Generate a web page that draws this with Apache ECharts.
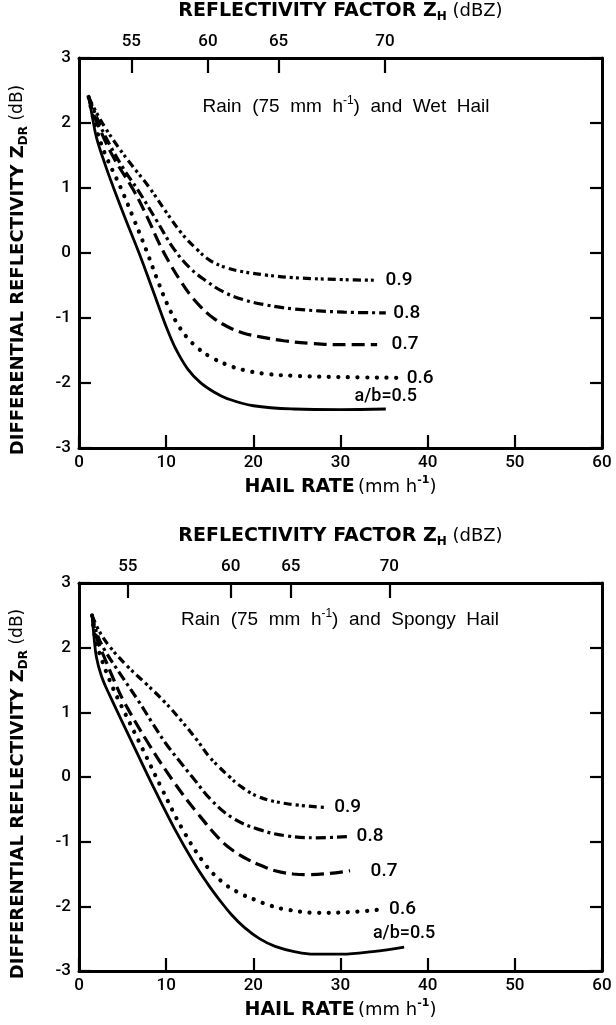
<!DOCTYPE html>
<html>
<head>
<meta charset="utf-8">
<script src="https://cdn.jsdelivr.net/npm/echarts@6/dist/echarts.min.js"></script>
<style>
  html, body { margin: 0; padding: 0; background: #fff; }
  #chart { width: 616px; height: 1025px; }
</style>
</head>
<body>
<div id="chart"></div>
<script>
// Z_DR (dB) against hail rate (mm h^-1) for rain of 75 mm h^-1 mixed with hail,
// one curve per hailstone axis ratio a/b.
const ratioLabels = ['a/b=0.5', '0.6', '0.7', '0.8', '0.9'];

// Wet hail: [hail rate, Z_DR]
const wet05 = [[1.1,2.4],[1.5,2.12],[2.0,1.78],[3.0,1.36],[4.0,0.99],[5.4,0.5],[6.8,0.03],[8.0,-0.4],[9.3,-0.88],[10.2,-1.2],[11.2,-1.5],[12.5,-1.79],[13.9,-1.99],[15.5,-2.14],[17.0,-2.24],[20.0,-2.35],[24.6,-2.40],[30.0,-2.41],[35.2,-2.40]];
const wet06 = [[1.1,2.4],[1.6,2.1],[2.1,1.86],[3.0,1.52],[4.8,1.0],[6.2,0.55],[7.7,0.05],[8.9,-0.38],[10.1,-0.78],[11.2,-1.07],[12.4,-1.3],[13.7,-1.47],[15.1,-1.6],[17.0,-1.72],[18.9,-1.8],[21.5,-1.86],[24.6,-1.89],[30.4,-1.91],[36.5,-1.92]];
const wet07 = [[1.1,2.4],[1.7,2.13],[2.3,1.93],[4.0,1.46],[6.2,0.98],[7.8,0.56],[9.3,0.12],[10.5,-0.18],[11.6,-0.42],[12.8,-0.65],[13.9,-0.82],[15.4,-1.0],[17.0,-1.13],[18.8,-1.23],[20.8,-1.29],[23.5,-1.35],[26.6,-1.39],[30.0,-1.41],[34.2,-1.41]];
const wet08 = [[1.1,2.4],[2.0,2.1],[3.0,1.8],[5.0,1.32],[6.8,0.96],[8.9,0.5],[10.9,0.06],[12.8,-0.24],[14.7,-0.44],[16.6,-0.6],[18.9,-0.72],[21.5,-0.8],[24.6,-0.86],[30.4,-0.91],[35.2,-0.92]];
const wet09 = [[1.1,2.4],[2.0,2.16],[3.0,1.93],[4.5,1.63],[6.0,1.36],[8.0,1.02],[10.0,0.63],[11.8,0.3],[13.5,0.06],[15.1,-0.12],[17.0,-0.23],[18.9,-0.29],[21.5,-0.34],[24.6,-0.38],[30.4,-0.41],[34.2,-0.42]];

// Spongy hail: [hail rate, Z_DR]
const spongy05 = [[1.5,2.5],[1.7,2.2],[2.0,1.85],[2.6,1.55],[3.5,1.27],[6.0,0.56],[8.7,-0.2],[11.0,-0.81],[13.2,-1.33],[14.8,-1.66],[16.0,-1.88],[17.5,-2.13],[19.0,-2.33],[20.7,-2.5],[22.5,-2.62],[24.7,-2.70],[27.0,-2.74],[30.1,-2.74],[33.7,-2.70],[37.3,-2.63]];
const spongy06 = [[1.5,2.5],[1.9,2.12],[2.7,1.78],[3.5,1.5],[4.5,1.2],[7.2,0.46],[9.5,-0.18],[11.8,-0.79],[14.3,-1.32],[16.4,-1.62],[18.2,-1.78],[20.2,-1.9],[22.0,-1.99],[23.8,-2.05],[27.4,-2.1],[31.0,-2.09],[34.6,-2.05]];
const spongy07 = [[1.5,2.5],[2.1,2.12],[3.0,1.82],[4.0,1.5],[5.1,1.18],[8.0,0.51],[11.0,-0.1],[13.6,-0.56],[16.2,-0.97],[17.7,-1.14],[19.3,-1.27],[20.9,-1.37],[22.5,-1.45],[24.6,-1.5],[26.3,-1.51],[28.8,-1.49],[31.1,-1.45]];
const spongy08 = [[1.5,2.5],[2.1,2.2],[3.0,1.95],[4.8,1.58],[6.8,1.18],[8.3,0.86],[9.9,0.53],[11.5,0.25],[13.0,0.0],[15.2,-0.36],[17.7,-0.64],[20.6,-0.81],[23.8,-0.91],[27.3,-0.94],[31.1,-0.92]];
const spongy09 = [[1.5,2.5],[2.3,2.26],[3.5,2.02],[5.5,1.72],[7.7,1.44],[9.9,1.15],[11.8,0.86],[13.6,0.56],[14.9,0.32],[16.1,0.15],[17.3,0.0],[18.3,-0.12],[20.5,-0.3],[23.7,-0.41],[28.3,-0.47]];

// Reflectivity factor scale: dBZ values and the hail rates where they fall
const dbzLabels = [55, 60, 65, 70];
const wetDbzRates = [6.0, 14.8, 22.9, 35.1];
const spongyDbzRates = [5.6, 17.4, 24.3, 35.6];

const rateMin = 0, rateMax = 60, rateStep = 10;
const zdrMin = -3, zdrMax = 3, zdrStep = 1;

const BLACK = '#000';
const TICK_FONT = 'Roboto';
const TEXT_FONT = 'Liberation Sans';
const NAME_FONT = 'DejaVu Sans';

const curveStyles = [
  { type: 'solid', width: 2.8 },
  { type: [0.1, 9.5], width: 4.2, cap: 'round' },
  { type: [13, 6], width: 3.2 },
  { type: [10, 4, 3, 4], width: 3.2 },
  { type: [8, 4, 3, 3, 3, 4], width: 3.2 }
];
// gap between each curve's end and its label, per panel
const wetLabelGap = [3, 9, 14, 7, 8];
const spongyLabelGap = [4, 8, 20, 6, 8];

const nameRich = {
  b: { fontFamily: NAME_FONT, fontWeight: 'bold', fontSize: 19, color: BLACK, lineHeight: 24, verticalAlign: 'middle' },
  r: { fontFamily: NAME_FONT, fontWeight: 'normal', fontSize: 18, color: BLACK, lineHeight: 24, verticalAlign: 'middle' },
  sub: { fontFamily: NAME_FONT, fontWeight: 'bold', fontSize: 12, color: BLACK, lineHeight: 12, verticalAlign: 'bottom' },
  sup: { fontFamily: NAME_FONT, fontWeight: 'bold', fontSize: 11, color: BLACK, lineHeight: 14, verticalAlign: 'top' }
};
const yNameRich = {
  b: Object.assign({}, nameRich.b, { fontSize: 18 }),
  r: Object.assign({}, nameRich.r, { fontSize: 17 }),
  sub: nameRich.sub
};

const tickLabel = { color: BLACK, fontSize: 17, fontFamily: TICK_FONT, fontWeight: 500 };

function rateAxis(gridIndex) {
  return {
    type: 'value', gridIndex, position: 'bottom',
    min: rateMin, max: rateMax, interval: rateStep,
    axisLine: { onZero: false, lineStyle: { color: BLACK, width: 3 } },
    axisTick: { inside: true, length: 13, lineStyle: { color: BLACK, width: 2.2 } },
    axisLabel: Object.assign({ margin: 6 }, tickLabel),
    splitLine: { show: false },
    name: '{b|HAIL RATE} {r|(mm h}{sup|-1}{r|)}',
    nameLocation: 'middle', nameGap: 27,
    nameTextStyle: { rich: nameRich }
  };
}

function dbzAxis(gridIndex, rates) {
  return {
    type: 'value', gridIndex, position: 'top',
    min: rateMin, max: rateMax,
    axisLine: { onZero: false, lineStyle: { color: BLACK, width: 3 } },
    axisTick: { inside: true, length: 15, customValues: rates, lineStyle: { color: BLACK, width: 2.2 } },
    axisLabel: Object.assign({
      margin: 8,
      customValues: rates,
      formatter: v => String(dbzLabels[rates.indexOf(v)])
    }, tickLabel),
    splitLine: { show: false },
    name: '{b|REFLECTIVITY FACTOR Z}{sub|H}{r| (dBZ)}',
    nameLocation: 'middle', nameGap: 35,
    nameTextStyle: { rich: nameRich }
  };
}

function zdrAxis(gridIndex, side) {
  const left = side === 'left';
  return {
    type: 'value', gridIndex, position: side,
    min: zdrMin, max: zdrMax, interval: zdrStep,
    axisLine: { show: true, onZero: false, lineStyle: { color: BLACK, width: 3 } },
    axisTick: { show: true, inside: true, length: 12, lineStyle: { color: BLACK, width: 2.2 } },
    axisLabel: Object.assign({ show: left, margin: 8 }, tickLabel),
    splitLine: { show: false },
    name: left ? '{b|DIFFERENTIAL REFLECTIVITY Z}{sub|DR}{r| (dB)}' : '',
    nameLocation: 'middle', nameRotate: 90, nameGap: 49,
    nameTextStyle: { rich: yNameRich, padding: [0, 34, 0, 0] }
  };
}

function curve(data, idx, axisIndex, gaps) {
  const isBase = idx === 0;
  return {
    type: 'line',
    xAxisIndex: axisIndex, yAxisIndex: axisIndex,
    data: data,
    smooth: 0.4,
    symbol: 'none', silent: true,
    lineStyle: Object.assign({ color: BLACK }, curveStyles[idx]),
    markPoint: {
      symbol: 'circle', symbolSize: 1, silent: true,
      itemStyle: { color: 'rgba(0,0,0,0)' },
      label: {
        show: true, color: BLACK, fontFamily: TICK_FONT, fontWeight: 500,
        fontSize: isBase ? 18 : 19,
        position: isBase ? 'top' : 'right',
        distance: gaps[idx],
        formatter: ratioLabels[idx]
      },
      data: [{ coord: data[data.length - 1] }]
    }
  };
}

const wetCurves = [wet05, wet06, wet07, wet08, wet09];
const spongyCurves = [spongy05, spongy06, spongy07, spongy08, spongy09];

const chart = echarts.init(document.getElementById('chart'), null, { renderer: 'canvas' });

const panelRich = {
  r: { fontFamily: TEXT_FONT, fontSize: 19, fill: BLACK, lineHeight: 24, verticalAlign: 'middle' },
  sup: { fontFamily: TEXT_FONT, fontSize: 12, fill: BLACK, lineHeight: 14, verticalAlign: 'top' }
};

chart.setOption({
  animation: false,
  backgroundColor: '#fff',
  grid: [
    { left: 79, top: 58, width: 523, height: 390, containLabel: false },
    { left: 79, top: 583, width: 523, height: 388, containLabel: false }
  ],
  xAxis: [rateAxis(0), rateAxis(1), dbzAxis(0, wetDbzRates), dbzAxis(1, spongyDbzRates)],
  yAxis: [zdrAxis(0, 'left'), zdrAxis(1, 'left'), zdrAxis(0, 'right'), zdrAxis(1, 'right')],
  graphic: [
    {
      type: 'text', x: 346, y: 107,
      style: {
        text: '{r|Rain  (75  mm  h}{sup|-1}{r|)  and  Wet  Hail}',
        rich: panelRich, align: 'center', verticalAlign: 'middle'
      }
    },
    {
      type: 'text', x: 340, y: 620,
      style: {
        text: '{r|Rain  (75  mm  h}{sup|-1}{r|)  and  Spongy  Hail}',
        rich: panelRich, align: 'center', verticalAlign: 'middle'
      }
    }
  ],
  series: [
    ...wetCurves.map((d, i) => curve(d, i, 0, wetLabelGap)),
    ...spongyCurves.map((d, i) => curve(d, i, 1, spongyLabelGap))
  ]
});
</script>
</body>
</html>
